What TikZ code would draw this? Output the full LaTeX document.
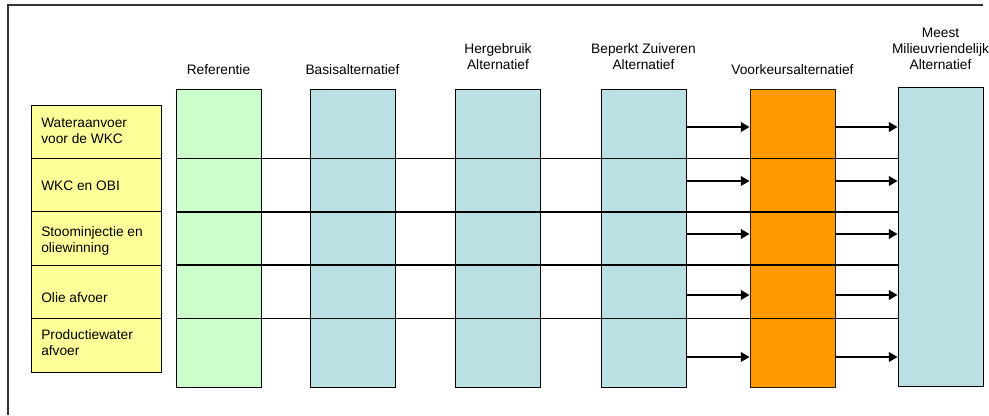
\documentclass[tikz,border=0pt]{standalone}
\usepackage{fontspec}
\setmainfont{Liberation Sans}
\usetikzlibrary{arrows.meta}
\definecolor{rowyellow}{HTML}{FFFF99}
\definecolor{refgreen}{HTML}{CCFFCC}
\definecolor{altblue}{HTML}{BBE0E3}
\definecolor{prefor}{HTML}{FF9900}
\tikzset{
  colbox/.style={draw=black, line width=0.6pt, minimum width=63.75pt, minimum height=223.5pt, inner sep=0pt},
  rowbox/.style={draw=black, fill=rowyellow, line width=0.6pt, minimum width=97.5pt, minimum height=40.05pt, inner sep=0pt},
  rowtext/.style={anchor=west, align=left, font=\fontsize{10.3}{12}\selectfont, inner sep=0pt},
  headtext/.style={align=center, font=\fontsize{10.3}{12}\selectfont, inner sep=0pt},
  divider/.style={line width=1.1pt, black},
  flow/.style={line width=1.8pt, -{Triangle[length=6.5pt,width=7pt]}}
}
\begin{document}
\begin{tikzpicture}[x=0.75pt,y=-0.75pt]
\useasboundingbox (0,0) rectangle (989,415);
% frame
\draw[line width=0.8pt, black!80] (8,415) -- (8,5) -- (983,5);
% left row boxes
\node[rowbox] (r1) at (96,131.7) {};
\node[rowbox] (r2) at (96,185.1) {};
\node[rowbox] (r3) at (96,238.5) {};
\node[rowbox] (r4) at (96,291.9) {};
\node[rowbox] (r5) at (96,345.3) {};
\node[rowtext] (t1) at (41,131) {Wateraanvoer\\voor de WKC};
\node[rowtext] (t2) at (41,186) {WKC en OBI};
\node[rowtext] (t3) at (41,241) {Stoominjectie en\\oliewinning};
\node[rowtext] (t4) at (41,298) {Olie afvoer};
\node[rowtext] (t5) at (41,343) {Productiewater\\afvoer};
% columns
\node[colbox, fill=refgreen] (ref) at (218.5,238) {};
\node[colbox, fill=altblue] (bas) at (352.5,238) {};
\node[colbox, fill=altblue] (her) at (498,238) {};
\node[colbox, fill=altblue] (bep) at (643.5,238) {};
\node[colbox, fill=prefor, draw=black!80!brown] (voo) at (792.5,238) {};
\node[colbox, fill=altblue, minimum height=224.25pt] (mee) at (940.5,236.5) {};
% headers
\node[headtext] (hRef) at (218.5,70) {Referentie};
\node[headtext] (hBas) at (352.5,70) {Basisalternatief};
\node[headtext] (hHer) at (498,57) {Hergebruik\\Alternatief};
\node[headtext] (hBep) at (643.5,57) {Beperkt Zuiveren\\Alternatief};
\node[headtext] (hVoo) at (792.5,70) {Voorkeursalternatief};
\node[headtext] (hMee) at (940.5,49) {Meest\\Milieuvriendelijk\\Alternatief};
% dividers
\foreach \y [count=\i] in {158.4,211.8,265.2,318.6}{
  \coordinate (dl\i) at (176,\y);
  \coordinate (dr\i) at (898,\y);
  \draw[divider] (ref.west |- dl\i) -- (mee.west |- dr\i);
}
% arrows
\foreach \y [count=\i] in {127,181,234,295,357}{
  \coordinate (a\i) at (700,\y);
  \draw[flow] (bep.east |- a\i) -- (voo.west |- a\i);
  \draw[flow] (voo.east |- a\i) -- (mee.west |- a\i);
}
\end{tikzpicture}
\end{document}
